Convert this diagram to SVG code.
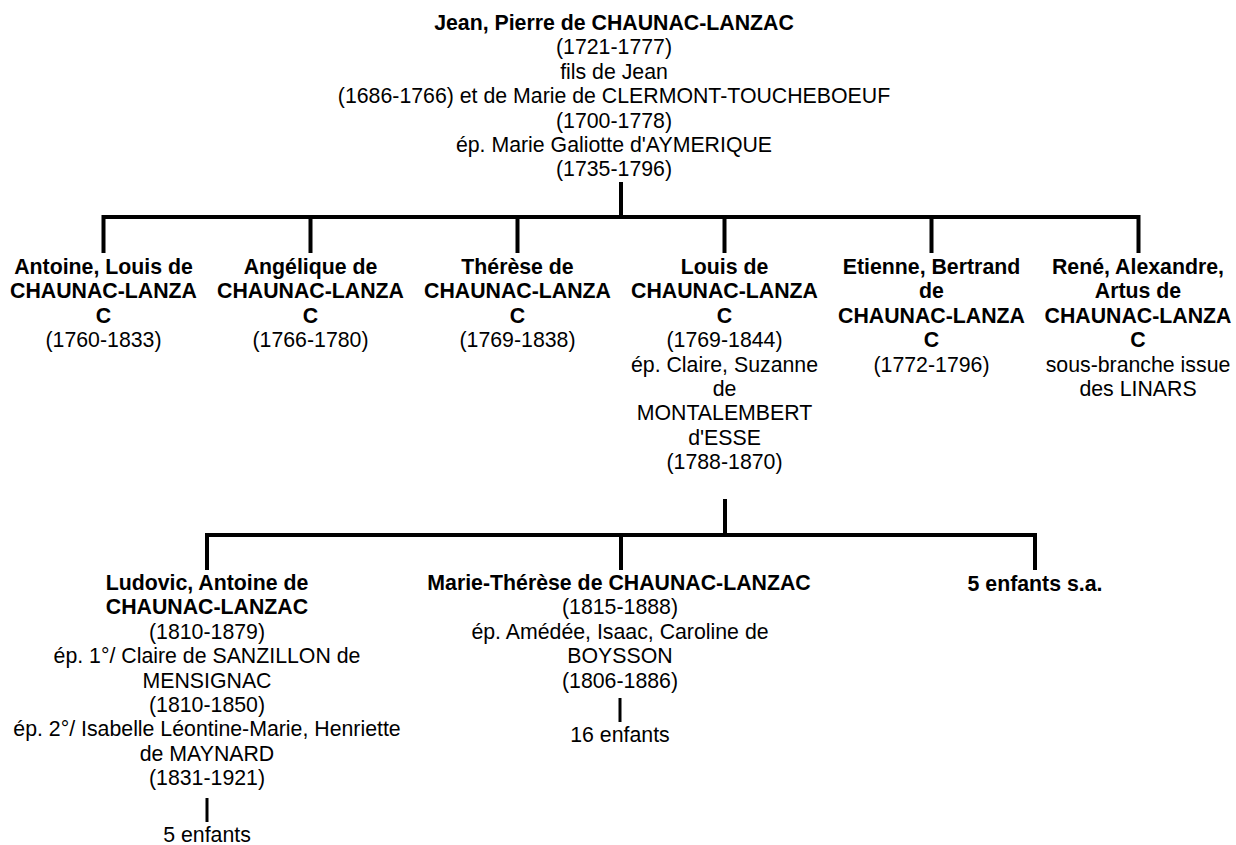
<svg xmlns="http://www.w3.org/2000/svg" width="1236" height="845" viewBox="0 0 1236 845">
<style>
text{font-family:"Liberation Sans",Arial,sans-serif;font-size:21.3px;fill:#000;text-anchor:middle}
.b{font-weight:bold}
.ln{fill:none;stroke:#000;stroke-width:4;stroke-linejoin:miter;stroke-linecap:butt}
.sm{fill:none;stroke:#000;stroke-width:3}
</style>
<rect width="1236" height="845" fill="#fff"/>
<g id="connectors">
<path class="ln" d="M621,182 V217"/>
<path class="ln" d="M103.5,253 V217 H1138.5 V253"/>
<path class="ln" d="M310.5,217 V253 M517.5,217 V253 M724.5,217 V253 M931.5,217 V253"/>
<path class="ln" d="M725,499 V535"/>
<path class="ln" d="M207,570 V535 H1035 V570"/>
<path class="ln" d="M621,535 V570"/>
<path class="sm" d="M207,798 V822"/>
<path class="sm" d="M620,698 V722"/>
</g>
<g id="jean-pierre">
<text x="614" y="30" class="b">Jean, Pierre de CHAUNAC-LANZAC</text>
<text x="614" y="54.4">(1721-1777)</text>
<text x="614" y="78.8">fils de Jean</text>
<text x="614" y="103.2">(1686-1766) et de Marie de CLERMONT-TOUCHEBOEUF</text>
<text x="614" y="127.6">(1700-1778)</text>
<text x="614" y="152">ép. Marie Galiotte d'AYMERIQUE</text>
<text x="614" y="176.4">(1735-1796)</text>
</g>
<g id="antoine-louis">
<text x="103.5" y="274" class="b">Antoine, Louis de</text>
<text x="103.5" y="298.4" class="b">CHAUNAC-LANZA</text>
<text x="103.5" y="322.8" class="b">C</text>
<text x="103.5" y="347.2">(1760-1833)</text>
</g>
<g id="angelique">
<text x="310.5" y="274" class="b">Angélique de</text>
<text x="310.5" y="298.4" class="b">CHAUNAC-LANZA</text>
<text x="310.5" y="322.8" class="b">C</text>
<text x="310.5" y="347.2">(1766-1780)</text>
</g>
<g id="therese">
<text x="517.5" y="274" class="b">Thérèse de</text>
<text x="517.5" y="298.4" class="b">CHAUNAC-LANZA</text>
<text x="517.5" y="322.8" class="b">C</text>
<text x="517.5" y="347.2">(1769-1838)</text>
</g>
<g id="louis">
<text x="724.5" y="274" class="b">Louis de</text>
<text x="724.5" y="298.4" class="b">CHAUNAC-LANZA</text>
<text x="724.5" y="322.8" class="b">C</text>
<text x="724.5" y="347.2">(1769-1844)</text>
<text x="724.5" y="371.6">ép. Claire, Suzanne</text>
<text x="724.5" y="396">de</text>
<text x="724.5" y="420.4">MONTALEMBERT</text>
<text x="724.5" y="444.8">d'ESSE</text>
<text x="724.5" y="469.2">(1788-1870)</text>
</g>
<g id="etienne-bertrand">
<text x="931.5" y="274" class="b">Etienne, Bertrand</text>
<text x="931.5" y="298.4" class="b">de</text>
<text x="931.5" y="322.8" class="b">CHAUNAC-LANZA</text>
<text x="931.5" y="347.2" class="b">C</text>
<text x="931.5" y="371.6">(1772-1796)</text>
</g>
<g id="rene-alexandre">
<text x="1138" y="274" class="b">René, Alexandre,</text>
<text x="1138" y="298.4" class="b">Artus de</text>
<text x="1138" y="322.8" class="b">CHAUNAC-LANZA</text>
<text x="1138" y="347.2" class="b">C</text>
<text x="1138" y="371.6">sous-branche issue</text>
<text x="1138" y="396">des LINARS</text>
</g>
<g id="ludovic">
<text x="207" y="590" class="b">Ludovic, Antoine de</text>
<text x="207" y="614.4" class="b">CHAUNAC-LANZAC</text>
<text x="207" y="638.8">(1810-1879)</text>
<text x="207" y="663.2">ép. 1°/ Claire de SANZILLON de</text>
<text x="207" y="687.6">MENSIGNAC</text>
<text x="207" y="712">(1810-1850)</text>
<text x="207" y="736.4">ép. 2°/ Isabelle Léontine-Marie, Henriette</text>
<text x="207" y="760.8">de MAYNARD</text>
<text x="207" y="785.2">(1831-1921)</text>
</g>
<g id="ludovic-enfants">
<text x="207" y="842">5 enfants</text>
</g>
<g id="marie-therese">
<text x="619" y="590" class="b">Marie-Thérèse de CHAUNAC-LANZAC</text>
<text x="620" y="614.4">(1815-1888)</text>
<text x="620" y="638.8">ép. Amédée, Isaac, Caroline de</text>
<text x="620" y="663.2">BOYSSON</text>
<text x="620" y="687.6">(1806-1886)</text>
</g>
<g id="marie-therese-enfants">
<text x="620" y="742">16 enfants</text>
</g>
<g id="cinq-enfants">
<text x="1035" y="591" class="b">5 enfants s.a.</text>
</g>
</svg>
